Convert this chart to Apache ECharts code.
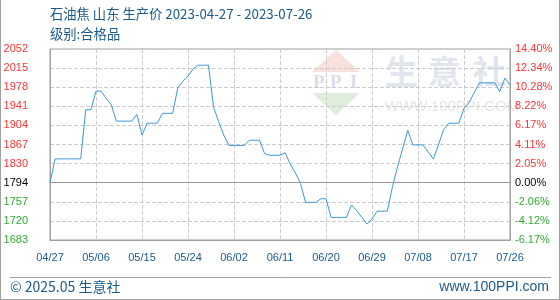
<!DOCTYPE html>
<html>
<head>
<meta charset="utf-8">
<script src="https://cdn.jsdelivr.net/npm/echarts@6/dist/echarts.min.js"></script>
<style>
html,body{margin:0;padding:0;background:#fff;}
#c{width:560px;height:300px;}
</style>
</head>
<body>
<div id="c"></div>
<script>
const titleText = '石油焦 山东 生产价 2023-04-27 - 2023-07-26';
const subTitleText = '级别:合格品';
const footerLeft = '© 2025.05 生意社';
const footerRight = 'www.100PPI.com';

const dates = [
'04/27','04/28','04/29','04/30',
'05/01','05/02','05/03','05/04','05/05','05/06','05/07','05/08','05/09','05/10',
'05/11','05/12','05/13','05/14','05/15','05/16','05/17','05/18','05/19','05/20',
'05/21','05/22','05/23','05/24','05/25','05/26','05/27','05/28','05/29','05/30','05/31',
'06/01','06/02','06/03','06/04','06/05','06/06','06/07','06/08','06/09','06/10',
'06/11','06/12','06/13','06/14','06/15','06/16','06/17','06/18','06/19','06/20',
'06/21','06/22','06/23','06/24','06/25','06/26','06/27','06/28','06/29','06/30',
'07/01','07/02','07/03','07/04','07/05','07/06','07/07','07/08','07/09','07/10',
'07/11','07/12','07/13','07/14','07/15','07/16','07/17','07/18','07/19','07/20',
'07/21','07/22','07/23','07/24','07/25','07/26'
];

const prices = [
1794,1840,1840,1840,1840,1840,1840,1935,1935,1971,
1971,1957,1944,1913,1913,1913,1913,1926,1886,1909,
1909,1909,1928,1928,1928,1977,1990,2000,2014,2021,
2021,2021,1940,1912,1886,1866,1866,1866,1866,1876,
1876,1876,1850,1847,1847,1847,1852,1830,1813,1793,
1756,1756,1756,1763,1763,1727,1727,1727,1727,1751,
1740,1727,1714,1724,1739,1739,1739,1786,1825,1860,
1895,1867,1867,1867,1853,1840,1867,1896,1909,1909,
1909,1938,1949,1968,1987,1987,1987,1987,1970,1996,
1983
];

const leftTickLabels = ['1683','1720','1757','1794','1830','1867','1904','1941','1978','2015','2052'];
const rightTickLabels = ['-6.17%','-4.12%','-2.06%','0.00%','2.05%','4.11%','6.17%','8.22%','10.28%','12.34%','14.40%'];
const basePrice = 1794;
const yMin = 1683.3, yMax = 2052.3, yStep = 36.9;
const baseIndex = 3;

function tickIndex(v){ return Math.round((v - yMin) / yStep); }
function tickColor(v){
  const i = tickIndex(v);
  return i < baseIndex ? '#33aa33' : (i === baseIndex ? '#000000' : '#ff3333');
}

const chart = echarts.init(document.getElementById('c'), null, {renderer:'canvas'});
const textBlue = '#1b5a8c';
const font = 'Liberation Sans, Arial, sans-serif';
const cjk = 'Noto Sans CJK SC, Liberation Sans, sans-serif';
const wmSerif = 'bold 19px Liberation Serif, serif';

chart.setOption({
  animation: false,
  backgroundColor: '#ffffff',
  grid: {left: 50, right: 50, top: 49, bottom: 60, show: true, borderColor: '#a0a0a0', borderWidth: 1},
  graphic: [
    {type:'polygon', z:-1, shape:{points:[[336,50],[312,72],[360,72]]}, style:{fill:'#f8e1dd'}},
    {type:'polygon', z:-1, shape:{points:[[312,93],[360,93],[336,115]]}, style:{fill:'#deeedb'}},
    {type:'text', z:-1, left:313, top:74, style:{text:'P', fill:'#d8dfea', font:wmSerif}},
    {type:'text', z:-1, left:330, top:74, style:{text:'P', fill:'#d8dfea', font:wmSerif}},
    {type:'text', z:-1, left:350, top:74, style:{text:'I', fill:'#d8dfea', font:wmSerif}},
    {type:'text', z:-1, left:385, top:55, style:{text:'生', fill:'#e0e5ee', font:'bold 33px '+cjk}},
    {type:'text', z:-1, left:428, top:55, style:{text:'意', fill:'#e0e5ee', font:'bold 33px '+cjk}},
    {type:'text', z:-1, left:473, top:55, style:{text:'社', fill:'#e0e5ee', font:'bold 33px '+cjk}},
    {type:'text', z:-1, left:385, top:99, style:{text:'WWW.100PPI.COM', fill:'#e6e6e6', font:'15px '+font}},
    {type:'text', left:50, top:7, style:{text:titleText, fill:textBlue, font:'13.3px '+cjk}},
    {type:'text', left:50, top:27, style:{text:subTitleText, fill:textBlue, font:'13.3px '+cjk}},
    {type:'line', shape:{x1:10, y1:277.5, x2:551, y2:277.5}, style:{stroke:'#a0a0a0', lineWidth:1}},
    {type:'text', left:10, top:280, style:{text:footerLeft, fill:textBlue, font:'14px '+cjk}},
    {type:'text', right:11, top:280, style:{text:footerRight, fill:textBlue, font:'14px '+font}},
    {type:'line', shape:{x1:0.5, y1:0, x2:0.5, y2:300}, style:{stroke:'#a0a0a0', lineWidth:1}},
    {type:'line', shape:{x1:559.5, y1:0, x2:559.5, y2:300}, style:{stroke:'#a0a0a0', lineWidth:1}},
    {type:'line', shape:{x1:0, y1:299.5, x2:560, y2:299.5}, style:{stroke:'#a0a0a0', lineWidth:1}}
  ],
  xAxis: {
    type: 'category',
    data: dates,
    boundaryGap: false,
    axisLine: {show: true, lineStyle: {color: '#a0a0a0'}},
    axisTick: {show: false},
    axisLabel: {interval: 8, color: textBlue, fontSize: 11, fontFamily: font, margin: 12},
    splitLine: {show: true, interval: 8, lineStyle: {color: '#cccccc', type: 'dashed', width: 1}}
  },
  yAxis: [
    {
      type: 'value', min: yMin, max: yMax, interval: yStep, position: 'left',
      axisLine: {show: true, lineStyle: {color: '#a0a0a0'}},
      axisTick: {show: false},
      axisLabel: {
        fontSize: 11, fontFamily: font, margin: 22,
        formatter: v => leftTickLabels[tickIndex(v)] || '',
        color: v => tickColor(v)
      },
      splitLine: {show: true, lineStyle: {color: '#cccccc', type: 'dashed', width: 1}}
    },
    {
      type: 'value', min: yMin, max: yMax, interval: yStep, position: 'right',
      axisLine: {show: true, lineStyle: {color: '#a0a0a0'}},
      axisTick: {show: false},
      axisLabel: {
        fontSize: 11, fontFamily: font, margin: 5,
        formatter: v => rightTickLabels[tickIndex(v)] || '',
        color: v => tickColor(v)
      },
      splitLine: {show: false}
    }
  ],
  series: [{
    type: 'line',
    data: prices,
    yAxisIndex: 0,
    symbol: 'none',
    lineStyle: {color: '#3a98d8', width: 1},
    markLine: {
      silent: true, symbol: 'none', label: {show: false},
      lineStyle: {color: '#999999', type: 'solid', width: 1},
      data: [{yAxis: basePrice}]
    }
  }]
});
</script>
</body>
</html>
